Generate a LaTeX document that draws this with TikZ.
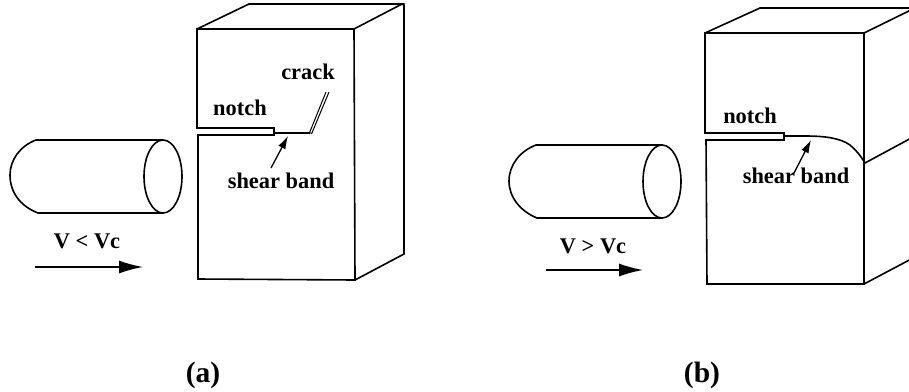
\documentclass[tikz,border=0pt]{standalone}
\usepackage{fontspec}
\setmainfont{Liberation Serif}
\usetikzlibrary{arrows.meta}
\tikzset{
  x=1pt,y=-1pt,
  edge/.style={line width=1.6pt,line join=miter,line cap=round},
  thin edge/.style={line width=1pt},
  lab/.style={font=\fontsize{22.4}{22.4}\selectfont\bfseries,inner sep=0pt,anchor=center},
  caption label/.style={font=\fontsize{29.5}{29.5}\selectfont\bfseries,inner sep=0pt,anchor=center},
  bigarrow/.style={line width=1.4pt,-{Latex[length=24pt,width=13pt]}},
  smallarrow/.style={line width=1.3pt,-{Latex[length=13pt,width=8pt]}}
}
\begin{document}
\begin{tikzpicture}
\useasboundingbox (0,0) rectangle (909,391);
\begin{scope}
\clip (0,0) rectangle (909,391);
% --- panel (a) ---
\coordinate (aTL) at (197,29);
\coordinate (aTR) at (354,29);
\coordinate (aBR) at (355,280);
\coordinate (aBL) at (198,279);
\coordinate (aBackL) at (249,4);
\coordinate (aBackR) at (402,4);
\coordinate (aRB) at (404,254);
\draw[edge] (aBL) -- (aBR) -- (aTR) -- (aTL) -- (197,128) -- (274,128) -- (274,135) -- (198,135) -- cycle;
\draw[edge] (aTL) -- (aBackL) -- (aBackR) -- (aTR);
\draw[edge] (aBackR) -- (404,5) -- (aRB) -- (aBR);
\coordinate (aN) at (274,133);
\coordinate (aS) at (310,133);
\draw[edge] (aN) -- (aS);
\draw[thin edge] (309,134) -- (326,92);
\draw[thin edge] (311.5,134) -- (329,92);
\node[lab] (acrack) at (308,72) {crack};
\node[lab] (anotch) at (240,108) {notch};
\node[lab] (ashear) at (281,181) {shear band};
\coordinate (aArrS) at (271,168);
\coordinate (aArrE) at (288,136);
\draw[smallarrow] (aArrS) -- (aArrE);
\draw[edge] (36,140) -- (163,140);
\draw[edge] (38,213) -- (163,213);
\draw[edge] (36,140) .. controls (20,146) and (10,160) .. (10,175) .. controls (10,192) and (20,206) .. (38,213);
\draw[edge] (163,176.5) ellipse [x radius=19,y radius=36.5];
\node[lab] (aV) at (87,241) {V < Vc};
\coordinate (aVS) at (35,267);
\coordinate (aVE) at (143,267);
\draw[bigarrow] (aVS) -- (aVE);
\node[caption label] (acap) at (203,375) {(a)};
% --- panel (b) ---
\coordinate (bTL) at (705,33);
\coordinate (bTR) at (864,33);
\coordinate (bBR) at (864,284);
\coordinate (bBL) at (707,284);
\draw[edge] (bBL) -- (bBR) -- (bTR) -- (bTL) -- (705,133) -- (784,133) -- (784,140) -- (706,140) -- cycle;
\draw[edge] (bTL) -- (760,8) -- (915,8) -- (bTR);
\draw[edge] (865,163) -- (915,136);
\draw[edge] (bBR) -- (915,257);
\draw[edge] (784,136) -- (805,136) .. controls (825,136) and (840,138) .. (850,145) .. controls (856,150) and (860,155) .. (865,163);
\node[lab] (bnotch) at (750,116) {notch};
\node[lab] (bshear) at (796,176) {shear band};
\coordinate (bArrS) at (794,173);
\coordinate (bArrE) at (811,140);
\draw[smallarrow] (bArrS) -- (bArrE);
\draw[edge] (536,145) -- (662,145);
\draw[edge] (537,218) -- (662,218);
\draw[edge] (536,145) .. controls (520,151) and (509,165) .. (509,181) .. controls (509,197) and (520,211) .. (537,218);
\draw[edge] (662,181.5) ellipse [x radius=19,y radius=36.5];
\node[lab] (bV) at (593,246) {V > Vc};
\coordinate (bVS) at (546,270);
\coordinate (bVE) at (643,270);
\draw[bigarrow] (bVS) -- (bVE);
\node[caption label] (bcap) at (702,375) {(b)};
\end{scope}
\end{tikzpicture}
\end{document}
